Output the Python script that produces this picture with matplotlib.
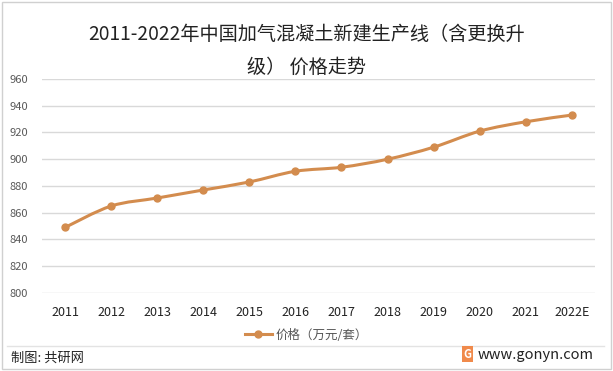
import matplotlib
matplotlib.use("Agg")
import matplotlib.pyplot as plt
from matplotlib.path import Path
from matplotlib.patches import PathPatch, Rectangle
from matplotlib.lines import Line2D

plt.rcParams['font.family'] = ['Noto Sans CJK SC', 'DejaVu Sans']

years = ['2011', '2012', '2013', '2014', '2015', '2016', '2017', '2018', '2019', '2020', '2021', '2022E']
prices = [849, 865, 871, 877, 883, 891, 894, 900, 909, 921, 928, 933]
yticks = [800, 820, 840, 860, 880, 900, 920, 940, 960]

line_color = '#D38C4E'
grid_color = '#D9D9D9'

fig = plt.figure(figsize=(6.13, 3.71), dpi=100)
fig.patch.set_facecolor('white')
ax = fig.add_axes([0.0685, 0.2102, 0.902, 0.577])

x = list(range(len(years)))

# smooth line like Excel: catmull-rom turned into bezier segments
verts = [(x[0], prices[0])]
codes = [Path.MOVETO]
n = len(x)
for i in range(n - 1):
    p0 = (x[max(i - 1, 0)], prices[max(i - 1, 0)])
    p1 = (x[i], prices[i])
    p2 = (x[i + 1], prices[i + 1])
    p3 = (x[min(i + 2, n - 1)], prices[min(i + 2, n - 1)])
    c1 = (p1[0] + (p2[0] - p0[0]) / 6, p1[1] + (p2[1] - p0[1]) / 6)
    c2 = (p2[0] - (p3[0] - p1[0]) / 6, p2[1] - (p3[1] - p1[1]) / 6)
    verts += [c1, c2, p2]
    codes += [Path.CURVE4] * 3
ax.add_patch(PathPatch(Path(verts, codes), facecolor='none', edgecolor=line_color,
                       lw=2.2, capstyle='round', joinstyle='round', zorder=3))
ax.plot(x, prices, linestyle='none', marker='o', markersize=5, color=line_color, zorder=4)

ax.set_xlim(-0.5, len(years) - 0.5)
ax.set_ylim(800, 960)
ax.set_yticks(yticks)
ax.set_xticks(x)
ax.set_xticklabels(years)
ax.yaxis.grid(True, color=grid_color, lw=1)
ax.set_axisbelow(True)
for s in ax.spines.values():
    s.set_visible(False)
ax.tick_params(axis='y', length=0, pad=10, labelsize=8, labelcolor='#595959')
ax.tick_params(axis='x', length=0, pad=9, labelsize=9, labelcolor='#222222')

fig.text(0.5, 1 - 34 / 371, '2011-2022年中国加气混凝土新建生产线（含更换升',
         ha='center', va='center', fontsize=13.8, color='#222222')
fig.text(0.5, 1 - 67 / 371, '级） 价格走势', ha='center', va='center', fontsize=13.8, color='#222222')

handle = Line2D([], [], color=line_color, lw=2.2, marker='o', markersize=5)
fig.legend([handle], ['价格（万元/套）'], loc='center', bbox_to_anchor=(0.5, 1 - 335 / 371),
           frameon=False, fontsize=9, handlelength=2.2, handletextpad=0.3,
           labelcolor='#555555')

# footer
fig.add_artist(Line2D([0.012, 0.985], [1 - 346 / 371] * 2, color='#E3E3E3', lw=1))
fig.text(0.018, 1 - 358 / 371, '制图: 共研网', ha='left', va='center', fontsize=9.5, color='#222222')
fig.text(0.968, 1 - 355 / 371, 'www.gonyn.com', ha='right', va='center', fontsize=10.5, color='#222222')
fig.text(0.763, 1 - 354 / 371, 'G', ha='center', va='center', fontsize=8, color='white',
         fontweight='bold', bbox=dict(boxstyle='square,pad=0.15', fc='#F08A4B', ec='none'))

fig.add_artist(Rectangle((0.004, 0.006), 0.992, 0.988, transform=fig.transFigure,
                         fill=False, ec='#D0D0D0', lw=1))

fig.savefig('out.png', dpi=100)
